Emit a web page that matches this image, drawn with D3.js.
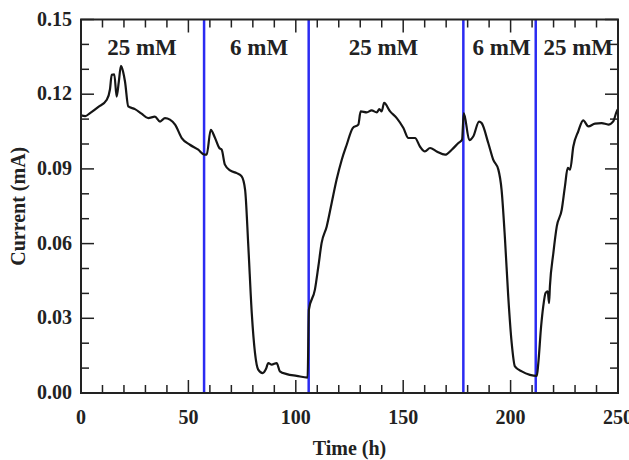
<!DOCTYPE html>
<html>
<head>
<meta charset="utf-8">
<script src="https://cdn.jsdelivr.net/npm/d3@7"></script>
<style>
  body { margin: 0; background: #fff; }
  svg text { font-family: "Liberation Serif", "Times New Roman", serif; font-weight: bold; fill: #222; }
</style>
</head>
<body>
<svg id="chart" width="629" height="460"></svg>
<script>
// time (h) and current (mA)
const timeH = [0, 2, 4.2, 8.1, 12, 13.5, 14.3, 15.5, 16.6, 17.6, 18.6, 19.6, 20.5, 22, 25.1, 28.2, 31.3, 34.4, 36.8, 39.1,
  41.4, 43.8, 46.9, 50.7, 54.6, 57.5, 58.5, 60.4, 62.4, 64.4, 65.5, 67, 69.4, 72.5, 74.8, 76.4, 77.9, 79.5, 81, 82.5,
  84.6, 86.1, 87.2, 88.8, 91.1, 92.6, 95.8, 100.4, 105.5, 106.1, 108.9, 110.5, 112, 114.4, 116.7, 119, 121.4, 123.7, 126.5, 129.1,
  130.2, 133, 135.3, 137.7, 138.9, 140, 141.1, 143.9, 147, 150.1, 152.4, 155.5, 157.8, 160.1, 162.5, 165.6, 169.5, 172.6, 175.7, 177.4,
  178.2, 180.8, 182.6, 185.3, 186.5, 189.6, 191.9, 194.3, 195.8, 197.4, 198.9, 200.5, 202, 205.2, 209, 212.2, 212.9, 214.2, 215.2, 216.3,
  217.3, 217.9, 218.3, 219.9, 221.5, 223.8, 225.3, 226.6, 227.7, 229.2, 231.5, 233.8, 236.2, 239.3, 242.4, 245.5, 247.8, 249.4, 250];
const currentMA = [0.1115, 0.1112, 0.1124, 0.1149, 0.1178, 0.122, 0.1278, 0.128, 0.119, 0.125, 0.1314, 0.129, 0.125, 0.1151, 0.114, 0.1122, 0.1104, 0.111, 0.109, 0.1104,
  0.1098, 0.1078, 0.1024, 0.0997, 0.0977, 0.0957, 0.0957, 0.1057, 0.1024, 0.0984, 0.0977, 0.0917, 0.0894, 0.0883, 0.087, 0.0816, 0.0589, 0.0321, 0.0161, 0.0094,
  0.008, 0.0096, 0.012, 0.0114, 0.012, 0.0087, 0.0076, 0.0069, 0.0062, 0.0335, 0.0415, 0.0508, 0.0602, 0.0669, 0.0763, 0.0857, 0.0937, 0.0997, 0.1064, 0.1078,
  0.1131, 0.1127, 0.1135, 0.1127, 0.114, 0.1131, 0.1165, 0.1131, 0.1104, 0.1064, 0.1024, 0.1024, 0.099, 0.097, 0.0984, 0.097, 0.0957, 0.0977, 0.1004, 0.1017,
  0.1124, 0.1015, 0.103, 0.109, 0.1084, 0.1004, 0.0937, 0.0897, 0.0816, 0.0616, 0.0388, 0.0201, 0.0107, 0.0087, 0.0073, 0.0069, 0.012, 0.0267, 0.0348, 0.0402,
  0.0408, 0.0361, 0.0428, 0.0562, 0.0669, 0.0736, 0.083, 0.0904, 0.0897, 0.099, 0.1051, 0.1095, 0.1071, 0.1082, 0.1084, 0.1078, 0.1091, 0.1131, 0.114];

// medium switches (blue lines) and concentration labels
const switchTimes = [57.3, 106, 178, 211.7];
const concLabels = ["25 mM", "6 mM", "25 mM", "6 mM", "25 mM"];
const concLabelTimes = [28.4, 82.9, 140.8, 195.8, 231.5];

const xTicks = [0, 50, 100, 150, 200, 250];
const yTicks = [0, 0.03, 0.06, 0.09, 0.12, 0.15];

const svg = d3.select("#chart");
const plotLeft = 81, plotRight = 618, plotTop = 19.5, plotBottom = 393;

const x = d3.scaleLinear().domain([0, 250]).range([plotLeft, plotRight]);
const y = d3.scaleLinear().domain([0, 0.15]).range([plotBottom, plotTop]);

// switch lines
svg.selectAll("line.switch")
  .data(switchTimes)
  .join("line")
  .attr("class", "switch")
  .attr("x1", d => x(d)).attr("x2", d => x(d))
  .attr("y1", plotTop).attr("y2", plotBottom)
  .attr("stroke", "#2b2bf2")
  .attr("stroke-width", 2.5);

// ticks, all inside the frame
const minorX = d3.range(0, 251, 10);
const minorY = d3.range(0, 16).map(i => i / 100);
const majorLen = 13, minorLen = 8;

minorX.forEach(t => {
  const len = t % 50 === 0 ? majorLen : minorLen;
  svg.append("line").attr("x1", x(t)).attr("x2", x(t)).attr("y1", plotBottom).attr("y2", plotBottom - len)
    .attr("stroke", "#222").attr("stroke-width", 1.5);
  svg.append("line").attr("x1", x(t)).attr("x2", x(t)).attr("y1", plotTop).attr("y2", plotTop + len)
    .attr("stroke", "#222").attr("stroke-width", 1.5);
});
minorY.forEach((v, i) => {
  const len = i % 3 === 0 ? majorLen : minorLen;
  svg.append("line").attr("x1", plotLeft).attr("x2", plotLeft + len).attr("y1", y(v)).attr("y2", y(v))
    .attr("stroke", "#222").attr("stroke-width", 1.5);
  svg.append("line").attr("x1", plotRight).attr("x2", plotRight - len).attr("y1", y(v)).attr("y2", y(v))
    .attr("stroke", "#222").attr("stroke-width", 1.5);
});

// current trace
const line = d3.line()
  .x((d, i) => x(timeH[i]))
  .y(d => y(d))
  .curve(d3.curveMonotoneX);

svg.append("path")
  .datum(currentMA)
  .attr("d", line)
  .attr("fill", "none")
  .attr("stroke", "#151515")
  .attr("stroke-width", 2.2)
  .attr("stroke-linejoin", "round");

// frame
svg.append("rect")
  .attr("x", plotLeft).attr("y", plotTop)
  .attr("width", plotRight - plotLeft).attr("height", plotBottom - plotTop)
  .attr("fill", "none")
  .attr("stroke", "#222")
  .attr("stroke-width", 2);

// tick labels
svg.selectAll("text.xt")
  .data(xTicks)
  .join("text")
  .attr("class", "xt")
  .attr("x", d => x(d))
  .attr("y", 424)
  .attr("text-anchor", "middle")
  .style("font-size", "20px")
  .text(d => d);

svg.selectAll("text.yt")
  .data(yTicks)
  .join("text")
  .attr("class", "yt")
  .attr("x", 72)
  .attr("y", d => y(d) + 6)
  .attr("text-anchor", "end")
  .style("font-size", "20px")
  .text(d => d.toFixed(2));

// concentration labels
svg.selectAll("text.conc")
  .data(concLabels)
  .join("text")
  .attr("class", "conc")
  .attr("x", (d, i) => x(concLabelTimes[i]))
  .attr("y", 55)
  .attr("text-anchor", "middle")
  .style("font-size", "23px")
  .text(d => d);

// axis titles
svg.append("text")
  .attr("x", (plotLeft + plotRight) / 2)
  .attr("y", 455)
  .attr("text-anchor", "middle")
  .style("font-size", "20px")
  .text("Time (h)");

svg.append("text")
  .attr("transform", "rotate(-90)")
  .attr("x", -(plotTop + plotBottom) / 2)
  .attr("y", 25)
  .attr("text-anchor", "middle")
  .style("font-size", "20px")
  .text("Current (mA)");
</script>
</body>
</html>
